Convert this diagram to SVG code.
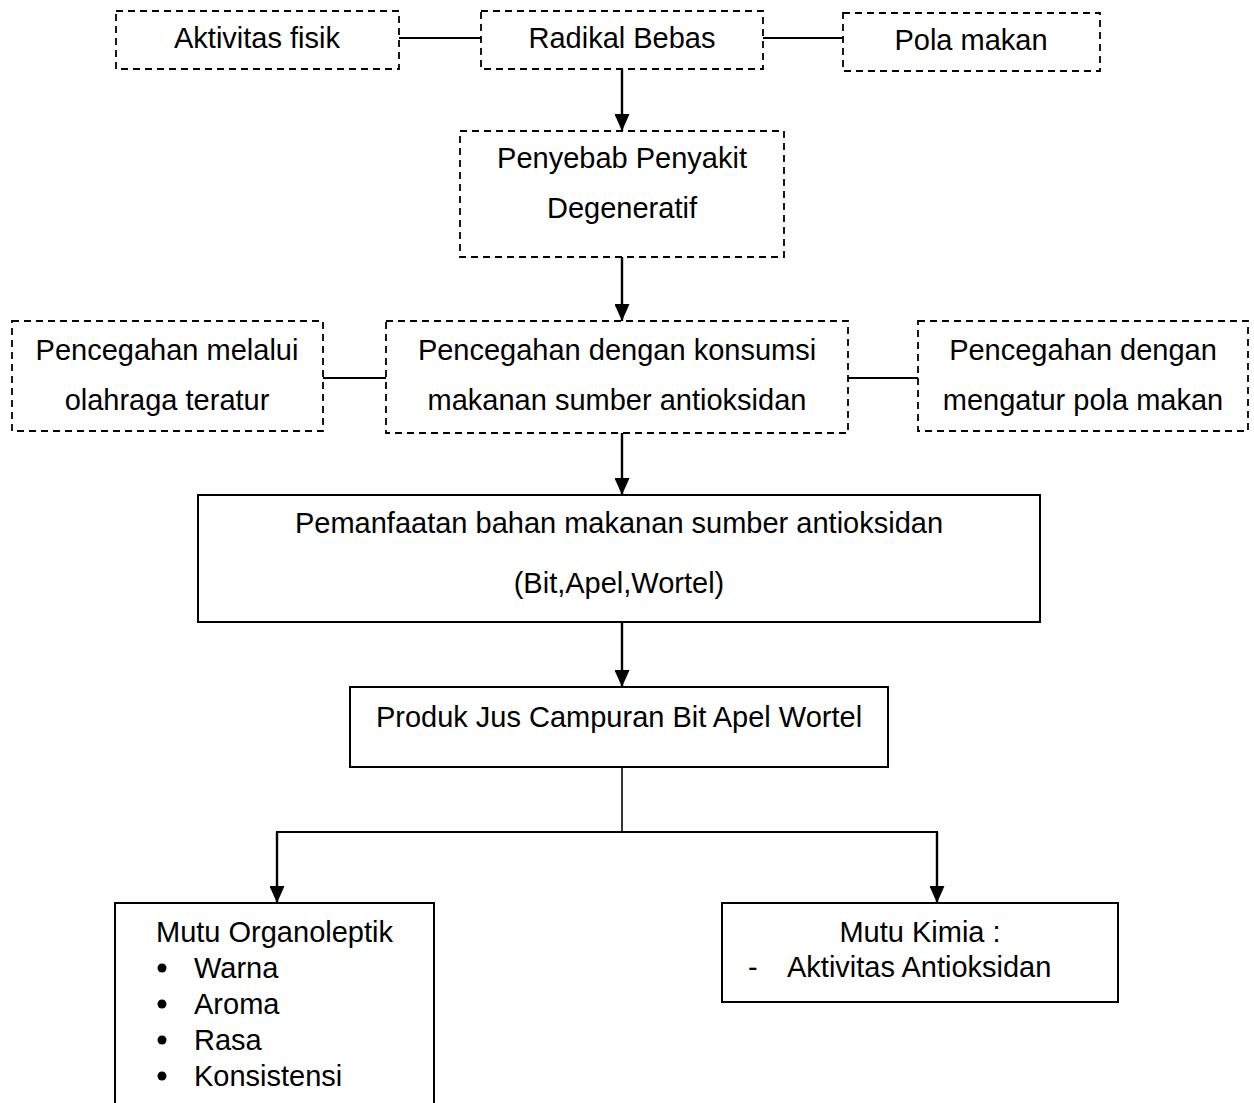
<svg xmlns="http://www.w3.org/2000/svg" width="1254" height="1103" viewBox="0 0 1254 1103">
<style>
.bg{fill:#fff}
.dash{fill:none;stroke:#000;stroke-width:1.8;stroke-dasharray:7 5}
.solid{fill:none;stroke:#000;stroke-width:2}
.t{font-family:"Liberation Sans",Arial,sans-serif;font-size:29px;fill:#000}
.c{text-anchor:middle}
.ln{fill:none;stroke:#000;stroke-width:2}
.ar{fill:none;stroke:#000;stroke-width:2.4;marker-end:url(#ah)}
</style>
<defs>
<marker id="ah" markerUnits="userSpaceOnUse" viewBox="0 0 17 15" markerWidth="17" markerHeight="15" refX="17" refY="7.5" orient="auto">
<path d="M0,0 L17,7.5 L0,15 z" fill="#000"/>
</marker>
</defs>
<rect class="bg" x="0" y="0" width="1254" height="1103"/>
<g id="connectors">
<line class="ln" x1="399" y1="38" x2="481" y2="38"/>
<line class="ln" x1="763" y1="38" x2="843" y2="38"/>
<line class="ar" x1="622" y1="69" x2="622" y2="131"/>
<line class="ar" x1="622" y1="257" x2="622" y2="321"/>
<line class="ln" x1="323" y1="378" x2="386" y2="378"/>
<line class="ln" x1="848" y1="378" x2="918" y2="378"/>
<line class="ar" x1="622" y1="433" x2="622" y2="495"/>
<line class="ar" x1="622" y1="622" x2="622" y2="687"/>
<line class="ln" x1="622" y1="767" x2="622" y2="832" style="stroke-width:1.6"/>
<line class="ln" x1="276" y1="832" x2="938" y2="832"/>
<line class="ar" x1="277" y1="832" x2="277" y2="903"/>
<line class="ar" x1="937" y1="832" x2="937" y2="903"/>
</g>
<g id="aktivitas-fisik">
<rect class="dash" x="116" y="11" width="283" height="58"/>
<text class="t c" x="257" y="48">Aktivitas fisik</text>
</g>
<g id="radikal-bebas">
<rect class="dash" x="481" y="11" width="282" height="58"/>
<text class="t c" x="622" y="48">Radikal Bebas</text>
</g>
<g id="pola-makan">
<rect class="dash" x="843" y="13" width="257" height="58"/>
<text class="t c" x="971" y="50">Pola makan</text>
</g>
<g id="penyebab">
<rect class="dash" x="460" y="131" width="324" height="126"/>
<text class="t c" x="622" y="168">Penyebab Penyakit</text>
<text class="t c" x="622" y="218">Degeneratif</text>
</g>
<g id="pencegahan-olahraga">
<rect class="dash" x="12" y="321" width="311" height="110"/>
<text class="t c" x="167" y="360">Pencegahan melalui</text>
<text class="t c" x="167" y="410">olahraga teratur</text>
</g>
<g id="pencegahan-antioksidan">
<rect class="dash" x="386" y="321" width="462" height="112"/>
<text class="t c" x="617" y="360">Pencegahan dengan konsumsi</text>
<text class="t c" x="617" y="410">makanan sumber antioksidan</text>
</g>
<g id="pencegahan-pola">
<rect class="dash" x="918" y="321" width="330" height="110"/>
<text class="t c" x="1083" y="360">Pencegahan dengan</text>
<text class="t c" x="1083" y="410">mengatur pola makan</text>
</g>
<g id="pemanfaatan">
<rect class="solid" x="198" y="495" width="842" height="127"/>
<text class="t c" x="619" y="533">Pemanfaatan bahan makanan sumber antioksidan</text>
<text class="t c" x="619" y="593">(Bit,Apel,Wortel)</text>
</g>
<g id="produk">
<rect class="solid" x="350" y="687" width="538" height="80"/>
<text class="t c" x="619" y="727">Produk Jus Campuran Bit Apel Wortel</text>
</g>
<g id="mutu-organoleptik">
<rect class="solid" x="115" y="903" width="319" height="220"/>
<text class="t" x="156" y="942">Mutu Organoleptik</text>
<circle cx="162" cy="968" r="4.5" fill="#000"/>
<text class="t" x="194" y="978">Warna</text>
<circle cx="162" cy="1004" r="4.5" fill="#000"/>
<text class="t" x="194" y="1014">Aroma</text>
<circle cx="162" cy="1040" r="4.5" fill="#000"/>
<text class="t" x="194" y="1050">Rasa</text>
<circle cx="162" cy="1076" r="4.5" fill="#000"/>
<text class="t" x="194" y="1086">Konsistensi</text>
</g>
<g id="mutu-kimia">
<rect class="solid" x="722" y="903" width="396" height="99"/>
<text class="t c" x="920" y="942">Mutu Kimia :</text>
<text class="t" x="748" y="977">-</text>
<text class="t" x="787" y="977">Aktivitas Antioksidan</text>
</g>
</svg>
